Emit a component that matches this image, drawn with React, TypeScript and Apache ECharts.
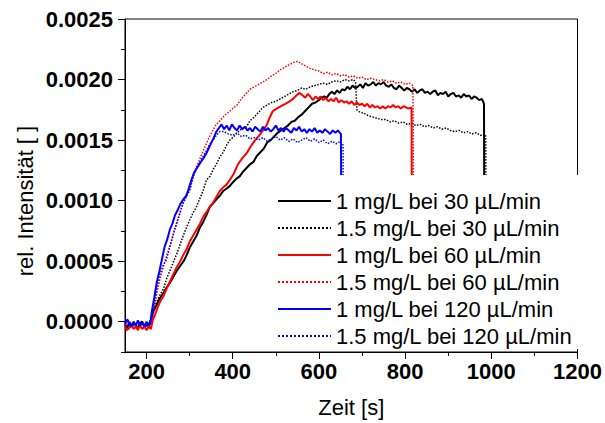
import React, { useEffect, useRef } from "react";
import * as echarts from "echarts";

const FONT = '"Liberation Sans", Arial, Helvetica, sans-serif';

const seriesNames = [
  "1 mg/L bei 30 µL/min",
  "1.5 mg/L bei 30 µL/min",
  "1 mg/L bei 60 µL/min",
  "1.5 mg/L bei 60 µL/min",
  "1 mg/L bei 120 µL/min",
  "1.5 mg/L bei 120 µL/min",
];

const xMajorTicks = [200, 400, 600, 800, 1000, 1200];
const xMinorTicks = [300, 500, 700, 900, 1100];
const yMajorTicks = [0, 0.0005, 0.001, 0.0015, 0.002, 0.0025];
const yMinorTicks = [-0.00025, 0.00025, 0.00075, 0.00125, 0.00175, 0.00225];

const black1mg30 = [
  [150, -0.00002], [155, -0.00005], [160, -0.00001], [165, -0.00004], [170, -0.00001], [175, -0.00003], [180, -0.00005],
  [185, -0.00001], [190, 0.0], [195, -0.00004], [200, -0.00002], [205, -0.00003], [210, 0.00001],
  [215, 0.00008], [222, 0.00013], [230, 0.00019], [238, 0.00023], [246, 0.00028], [254, 0.00032], [262, 0.00037],
  [270, 0.00042], [278, 0.00046], [286, 0.0005], [293, 0.00055], [300, 0.00061], [308, 0.00066], [316, 0.00071],
  [324, 0.00078], [331, 0.00082], [339, 0.00088], [347, 0.00095], [355, 0.00098], [362, 0.00101], [370, 0.00104],
  [378, 0.00108], [386, 0.0011], [393, 0.00112], [400, 0.00115], [408, 0.00118], [416, 0.0012], [424, 0.00124],
  [432, 0.00127], [440, 0.0013], [448, 0.00132], [456, 0.00137], [464, 0.0014], [472, 0.00143], [480, 0.00148],
  [488, 0.0015], [496, 0.00153], [504, 0.00156], [512, 0.00158], [520, 0.0016], [528, 0.00162], [536, 0.00165],
  [544, 0.00166], [552, 0.00169], [560, 0.00171], [568, 0.00174], [576, 0.00177], [584, 0.0018], [592, 0.00181],
  [600, 0.00183], [606, 0.00185], [612, 0.00186], [618, 0.00185], [624, 0.00188], [630, 0.0019], [636, 0.00188],
  [642, 0.00191], [648, 0.00189], [654, 0.00192], [660, 0.00191], [666, 0.00194], [672, 0.00192], [678, 0.00195],
  [684, 0.00193], [690, 0.00194], [696, 0.00196], [702, 0.00193], [708, 0.00197], [714, 0.00195], [720, 0.00196],
  [726, 0.00198], [732, 0.00195], [738, 0.00197], [744, 0.00196], [750, 0.00198], [756, 0.00195], [762, 0.00194],
  [768, 0.00196], [774, 0.00193], [780, 0.00192], [786, 0.00195], [792, 0.00193], [798, 0.00191], [804, 0.00193],
  [810, 0.00192], [816, 0.0019], [822, 0.00192], [828, 0.00189], [834, 0.00191], [840, 0.00192], [846, 0.00189],
  [852, 0.0019], [858, 0.00188], [864, 0.0019], [870, 0.00191], [876, 0.00187], [882, 0.00189], [888, 0.00188],
  [894, 0.0019], [900, 0.00186], [906, 0.00188], [912, 0.00189], [918, 0.00186], [924, 0.00187], [930, 0.00185],
  [936, 0.00188], [942, 0.00186], [948, 0.00187], [954, 0.00184], [960, 0.00186], [966, 0.00185], [972, 0.00183],
  [978, 0.00184], [983, 0.0018], [984, 0.0],
];

const black15mg30 = [
  [150, -0.00008], [160, -0.00005], [170, -0.00003], [180, -0.00005], [190, -0.00002], [200, -0.00004], [208, -0.00001],
  [215, 0.00008], [223, 0.00016], [231, 0.00022], [239, 0.00027], [247, 0.00036], [255, 0.00043], [262, 0.00049],
  [270, 0.00056], [278, 0.00064], [285, 0.00071], [293, 0.00078], [300, 0.00084], [308, 0.0009], [316, 0.00095],
  [324, 0.00102], [331, 0.00108], [339, 0.00117], [347, 0.0012], [355, 0.00126], [362, 0.0013], [370, 0.00136],
  [378, 0.0014], [386, 0.00146], [393, 0.0015], [400, 0.00152], [410, 0.00156], [420, 0.00159], [432, 0.00161],
  [440, 0.00166], [450, 0.00169], [460, 0.00173], [470, 0.00177], [480, 0.00179], [490, 0.00181], [500, 0.00182],
  [510, 0.00184], [520, 0.00186], [530, 0.00188], [540, 0.0019], [550, 0.00191], [560, 0.00193], [570, 0.00192],
  [580, 0.00194], [590, 0.00195], [600, 0.00196], [610, 0.00197], [620, 0.00196], [630, 0.00198], [640, 0.00199],
  [650, 0.00198], [660, 0.002], [670, 0.00199], [680, 0.002], [685, 0.00198], [688, 0.00175], [695, 0.00173],
  [705, 0.00172], [715, 0.0017], [725, 0.00169], [735, 0.00168], [745, 0.00167], [755, 0.00167], [765, 0.00165],
  [775, 0.00166], [785, 0.00164], [795, 0.00165], [805, 0.00163], [815, 0.00164], [825, 0.00162], [835, 0.00163],
  [845, 0.00161], [855, 0.00162], [865, 0.0016], [875, 0.00161], [885, 0.00159], [895, 0.0016], [905, 0.00158],
  [915, 0.00157], [925, 0.00158], [935, 0.00156], [945, 0.00157], [955, 0.00155], [965, 0.00156], [975, 0.00154],
  [985, 0.00155], [987, 0.00153], [988, 0.0],
];

const red1mg60 = [
  [150, -0.00004], [155, -0.00007], [160, -0.00005], [165, -0.00003], [170, -0.00006], [175, -0.00004], [180, -0.00007],
  [185, -0.00003], [190, -0.00006], [195, -0.00004], [200, -0.00007], [205, -0.00004], [210, -0.00006],
  [215, 0.00002], [220, 0.00006], [226, 0.00012], [232, 0.00017], [239, 0.00021], [246, 0.00027], [254, 0.00033],
  [262, 0.00039], [270, 0.00045], [277, 0.00049], [285, 0.00055], [293, 0.0006], [300, 0.00066], [308, 0.00071],
  [316, 0.00076], [324, 0.00081], [332, 0.00087], [340, 0.00091], [347, 0.00095], [354, 0.00098], [362, 0.00103],
  [370, 0.00108], [378, 0.00111], [385, 0.00113], [393, 0.00117], [402, 0.00122], [412, 0.0013], [422, 0.00135],
  [432, 0.00139], [442, 0.00145], [452, 0.0015], [462, 0.00154], [470, 0.00158], [478, 0.00162], [485, 0.00168],
  [493, 0.00174], [502, 0.00176], [512, 0.00178], [522, 0.0018], [532, 0.00182], [540, 0.00184], [548, 0.00187],
  [555, 0.00189], [562, 0.00187], [568, 0.00185], [574, 0.00188], [580, 0.00186], [586, 0.00183], [592, 0.00186],
  [598, 0.00184], [604, 0.00186], [610, 0.00183], [616, 0.00185], [622, 0.00182], [628, 0.00184], [634, 0.00182],
  [640, 0.00185], [646, 0.00181], [652, 0.00183], [658, 0.00181], [664, 0.00182], [670, 0.0018], [676, 0.00182],
  [682, 0.00179], [688, 0.00181], [694, 0.00179], [700, 0.0018], [706, 0.00178], [712, 0.0018], [718, 0.00177],
  [724, 0.00179], [730, 0.00177], [736, 0.00178], [742, 0.00176], [748, 0.00178], [754, 0.00176], [760, 0.00178],
  [766, 0.00177], [772, 0.00179], [778, 0.00177], [784, 0.00178], [790, 0.00176], [796, 0.00178], [802, 0.00177],
  [808, 0.00176], [815, 0.00177], [816, 0.0],
];

const red15mg60 = [
  [150, -0.00003], [160, 0.0], [170, -0.00002], [180, -0.00005], [190, -0.00001], [200, -0.00003], [208, -0.00004],
  [215, 0.00005], [222, 0.0002], [231, 0.00035], [240, 0.00047], [247, 0.00055], [254, 0.00062], [262, 0.00072],
  [270, 0.00081], [277, 0.0009], [285, 0.00098], [292, 0.00104], [300, 0.00108], [308, 0.00119], [316, 0.00128],
  [330, 0.0014], [345, 0.00152], [360, 0.00162], [370, 0.00166], [380, 0.0017], [390, 0.00173], [400, 0.00176],
  [410, 0.00179], [420, 0.00184], [430, 0.00188], [440, 0.00192], [450, 0.00194], [460, 0.00196], [470, 0.00198],
  [480, 0.002], [490, 0.00203], [500, 0.00205], [510, 0.00208], [520, 0.0021], [530, 0.00212], [540, 0.00214],
  [550, 0.00215], [560, 0.00213], [570, 0.00211], [580, 0.00209], [590, 0.00208], [600, 0.00207], [610, 0.00205],
  [620, 0.00206], [630, 0.00204], [640, 0.00205], [650, 0.00203], [660, 0.00204], [670, 0.00202], [680, 0.00203],
  [690, 0.00201], [700, 0.00202], [710, 0.002], [720, 0.00201], [730, 0.002], [740, 0.00199], [750, 0.002],
  [760, 0.00198], [770, 0.00199], [780, 0.00197], [790, 0.00198], [800, 0.00196], [810, 0.00197], [818, 0.00195],
  [821, 0.0],
];

const blue1mg120 = [
  [150, -0.00002], [155, 0.00002], [160, -0.00001], [165, -0.00004], [170, 0.0], [175, -0.00003], [180, 0.00001],
  [185, -0.00003], [190, -0.00001], [195, -0.00004], [200, 0.0], [205, -0.00003], [209, -0.00001],
  [212, 0.00008], [218, 0.0002], [224, 0.00033], [230, 0.00042], [236, 0.00052], [242, 0.00062], [248, 0.00068],
  [254, 0.00076], [260, 0.00081], [266, 0.00088], [272, 0.00092], [278, 0.00097], [285, 0.00101], [292, 0.00104],
  [298, 0.0011], [304, 0.00117], [310, 0.00123], [317, 0.00127], [324, 0.00131], [332, 0.00135], [340, 0.0014],
  [348, 0.00146], [356, 0.00152], [362, 0.00157], [368, 0.0016], [374, 0.00163], [380, 0.00159], [386, 0.00162],
  [392, 0.00158], [398, 0.00163], [404, 0.0016], [410, 0.00158], [416, 0.00162], [422, 0.00159], [428, 0.00161],
  [434, 0.00158], [440, 0.0016], [446, 0.00157], [452, 0.00161], [458, 0.00159], [464, 0.00157], [470, 0.00161],
  [476, 0.00158], [482, 0.0016], [488, 0.00157], [494, 0.00159], [500, 0.00162], [506, 0.00158], [512, 0.0016],
  [518, 0.00157], [524, 0.0016], [530, 0.00158], [536, 0.00156], [542, 0.0016], [548, 0.00158], [554, 0.00161],
  [560, 0.00157], [566, 0.00159], [572, 0.00156], [578, 0.00159], [584, 0.00157], [590, 0.0016], [596, 0.00156],
  [602, 0.00158], [608, 0.00156], [614, 0.00159], [620, 0.00157], [626, 0.00155], [632, 0.00158], [638, 0.00156],
  [644, 0.00158], [651, 0.00155], [653, 0.0],
];

const blue15mg120 = [
  [150, -0.00001], [160, -0.00004], [170, 0.0], [180, -0.00003], [190, -0.00002], [200, -0.00004], [208, 0.00001],
  [215, 0.00006], [223, 0.00027], [230, 0.00038], [238, 0.00046], [246, 0.00051], [254, 0.00062], [262, 0.00072],
  [270, 0.00082], [278, 0.0009], [285, 0.00098], [292, 0.00103], [300, 0.00109], [308, 0.0012], [316, 0.00127],
  [324, 0.00132], [332, 0.00137], [340, 0.00142], [347, 0.00147], [354, 0.0015], [362, 0.00154], [370, 0.00157],
  [380, 0.00157], [390, 0.00155], [400, 0.00154], [410, 0.00156], [420, 0.00153], [430, 0.00154], [440, 0.00151],
  [450, 0.00152], [460, 0.0015], [470, 0.00152], [480, 0.00149], [490, 0.00151], [500, 0.00153], [510, 0.0015],
  [520, 0.00152], [530, 0.00149], [540, 0.00151], [550, 0.00148], [560, 0.0015], [570, 0.00152], [580, 0.00149],
  [590, 0.00151], [600, 0.00148], [610, 0.0015], [620, 0.00147], [630, 0.00149], [640, 0.00147], [650, 0.00149],
  [656, 0.00146], [657, 0.0],
];

const seriesData = [black1mg30, black15mg30, red1mg60, red15mg60, blue1mg120, blue15mg120];
const seriesColors = ["#000000", "#000000", "#ff0000", "#ff0000", "#0000ff", "#0000ff"];
const seriesDotted = [false, true, false, true, false, true];

export default function App() {
  const ref = useRef<HTMLDivElement>(null);
  useEffect(() => {
    if (!ref.current) return;
    const chart = echarts.init(ref.current, undefined, { renderer: "svg" });
    const axisLineStyle = { color: "#000", width: 1 };
    chart.setOption({
      animation: false,
      backgroundColor: "#fff",
      grid: {
        left: 125,
        right: 26,
        top: 19,
        bottom: 70.5,
        show: true,
        borderColor: "#000",
        borderWidth: 1,
        backgroundColor: "transparent",
      },
      xAxis: [
        {
          type: "value",
          min: 150,
          max: 1200,
          position: "bottom",
          axisLine: { show: true, onZero: false, lineStyle: axisLineStyle },
          axisTick: { show: true, length: 7, customValues: xMajorTicks, lineStyle: axisLineStyle },
          axisLabel: {
            customValues: xMajorTicks,
            formatter: (v: number) => String(v),
            fontSize: 22,
            fontWeight: "bold",
            fontFamily: FONT,
            color: "#000",
            margin: 8,
          },
          splitLine: { show: false },
          name: "Zeit [s]",
          nameLocation: "middle",
          nameGap: 44,
          nameTextStyle: { fontSize: 22, fontFamily: FONT, color: "#000" },
        },
        {
          type: "value",
          min: 150,
          max: 1200,
          position: "bottom",
          axisLine: { show: false, onZero: false },
          axisTick: { show: true, length: 4, customValues: xMinorTicks, lineStyle: axisLineStyle },
          axisLabel: { show: false },
          splitLine: { show: false },
        },
      ],
      yAxis: [
        {
          type: "value",
          min: -0.00025,
          max: 0.0025,
          position: "left",
          axisLine: { show: true, onZero: false, lineStyle: axisLineStyle },
          axisTick: { show: true, length: 7, customValues: yMajorTicks, lineStyle: axisLineStyle },
          axisLabel: {
            customValues: yMajorTicks,
            formatter: (v: number) => v.toFixed(4),
            fontSize: 22,
            fontWeight: "bold",
            fontFamily: FONT,
            color: "#000",
            margin: 12,
          },
          splitLine: { show: false },
        },
        {
          type: "value",
          min: -0.00025,
          max: 0.0025,
          position: "left",
          axisLine: { show: false, onZero: false },
          axisTick: { show: true, length: 4, customValues: yMinorTicks, lineStyle: axisLineStyle },
          axisLabel: { show: false },
          splitLine: { show: false },
        },
      ],
      legend: {
        left: 272,
        top: 175,
        orient: "vertical",
        padding: [15, 8, 2, 5],
        backgroundColor: "#fff",
        itemWidth: 53,
        itemHeight: 14,
        itemGap: 5,
        itemStyle: { opacity: 0 },
        textStyle: { fontSize: 22, fontFamily: FONT, color: "#000" },
        data: seriesNames,
      },
      graphic: [
        {
          type: "text",
          x: 25,
          y: 201,
          rotation: Math.PI / 2,
          style: {
            text: "rel. Intensität [ ]",
            fontSize: 22,
            fontFamily: FONT,
            fill: "#000",
            align: "center",
            verticalAlign: "middle",
          },
        },
      ],
      series: seriesNames.map((name, i) => ({
        name,
        type: "line",
        xAxisIndex: 0,
        yAxisIndex: 0,
        data: seriesData[i],
        symbol: "none",
        showSymbol: false,
        color: seriesColors[i],
        lineStyle: {
          color: seriesColors[i],
          width: seriesDotted[i] ? 1.5 : 2,
          type: seriesDotted[i] ? "dotted" : "solid",
        },
      })),
    });
    return () => chart.dispose();
  }, []);
  return (
    <div
      ref={ref}
      style={{ position: "absolute", left: 0, top: 0, width: 605, height: 423 }}
    />
  );
}
